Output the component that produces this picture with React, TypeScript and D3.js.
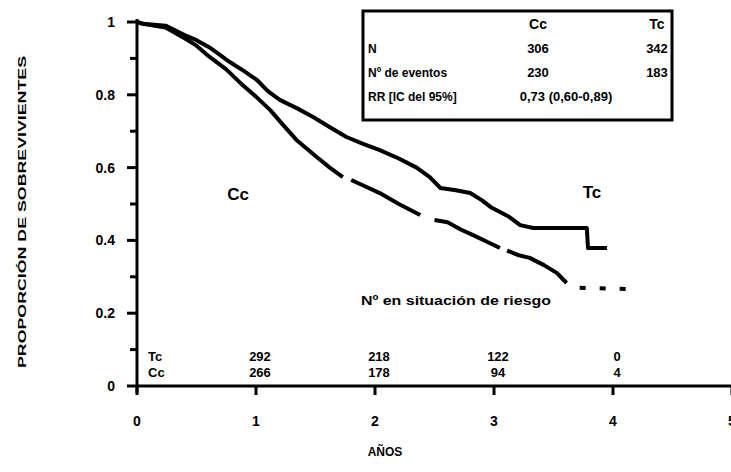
import React from "react";
import * as d3 from "d3";

// axis ticks
const years = [0, 1, 2, 3, 4, 5];
const survTicks = [0, 0.2, 0.4, 0.6, 0.8, 1];
const survLabels = ["0", "0.2", "0.4", "0.6", "0.8", "1"];
const minorTicks = [0.1, 0.3, 0.5, 0.7, 0.9];

// Tc curve (upper)
const tcTime = [0, 0.05, 0.24, 0.4, 0.5, 0.61, 0.78, 0.9, 1.01, 1.1, 1.2, 1.35, 1.48, 1.6, 1.76, 1.9, 2.04, 2.2, 2.35, 2.46, 2.55, 2.68, 2.8, 2.9, 2.97, 3.05, 3.13, 3.22, 3.33, 3.78, 3.79, 3.95];
const tcSurv = [1, 0.995, 0.99, 0.964, 0.95, 0.93, 0.89, 0.865, 0.84, 0.81, 0.786, 0.762, 0.739, 0.715, 0.684, 0.665, 0.648, 0.625, 0.6, 0.574, 0.544, 0.538, 0.53, 0.51, 0.492, 0.478, 0.464, 0.442, 0.434, 0.434, 0.379, 0.379];

// Cc curve (lower); null marks a break in the printed line
const ccTime = [0, 0.05, 0.24, 0.4, 0.5, 0.61, 0.75, 0.87, 1.0, 1.12, 1.22, 1.34, 1.51, 1.62, 1.73, 1.77, 1.8, 1.92, 2.04, 2.2, 2.38, 2.45, 2.5, 2.61, 2.72, 2.82, 2.95, 3.05, 3.08, 3.11, 3.2, 3.3, 3.42, 3.53, 3.61];
const ccSurv = [1, 0.995, 0.985, 0.955, 0.935, 0.904, 0.87, 0.832, 0.795, 0.758, 0.72, 0.676, 0.629, 0.6, 0.574, null, 0.566, 0.548, 0.53, 0.5, 0.47, null, 0.456, 0.45, 0.43, 0.415, 0.395, 0.379, null, 0.372, 0.36, 0.352, 0.332, 0.31, 0.283];
const ccTailTime = [3.72, 4.16];
const ccTailSurv = [0.27, 0.266];

// numbers at risk
const riskYears = [1, 2, 3, 4];
const tcRisk = ["292", "218", "122", "0"];
const ccRisk = ["266", "178", "94", "4"];

// summary table
const tableCols = ["Cc", "Tc"];
const tableRows = ["N", "Nº de eventos", "RR [IC del 95%]"];
const tableN = ["306", "342"];
const tableEvents = ["230", "183"];
const tableRR = "0,73 (0,60-0,89)";

const font = "'Liberation Sans', Arial, sans-serif";

export default function App() {
  const x = d3.scaleLinear().domain([0, 5]).range([137, 732]);
  const y = d3.scaleLinear().domain([0, 1]).range([386, 22]);

  const line = d3
    .line<[number, number | null]>()
    .defined((d) => d[1] != null)
    .x((d) => x(d[0]))
    .y((d) => y(d[1] as number));

  const tc = tcTime.map((t, i) => [t, tcSurv[i]] as [number, number | null]);
  const cc = ccTime.map((t, i) => [t, ccSurv[i]] as [number, number | null]);
  const ccTail = ccTailTime.map((t, i) => [t, ccTailSurv[i]] as [number, number | null]);

  const colX = [538, 657];
  const rowY = [48, 72, 96];

  return (
    <div style={{ position: "absolute", left: 0, top: 0 }}>
      <svg width={731} height={472} style={{ display: "block", background: "#fff" }} fontFamily={font} fontWeight="bold">
        {/* y axis title */}
        <text
          transform="translate(26,212) rotate(-90)"
          textAnchor="middle"
          fontSize={11}
          textLength={312}
          lengthAdjust="spacingAndGlyphs"
        >
          PROPORCIÓN DE SOBREVIVIENTES
        </text>

        {/* y axis */}
        <line x1={x(0)} x2={x(0)} y1={y(1) - 3} y2={y(0) + 7} stroke="#000" strokeWidth={3} />
        {survTicks.map((v, i) => (
          <g key={"yt" + v}>
            <line x1={x(0) - 10} x2={x(0)} y1={y(v)} y2={y(v)} stroke="#000" strokeWidth={3} />
            <text x={115} y={y(v) + 5} textAnchor="end" fontSize={14}>
              {survLabels[i]}
            </text>
          </g>
        ))}
        {minorTicks.map((v) => (
          <line key={"ym" + v} x1={x(0) - 7} x2={x(0)} y1={y(v)} y2={y(v)} stroke="#000" strokeWidth={3} />
        ))}

        {/* x axis */}
        <line x1={x(0)} x2={731} y1={y(0)} y2={y(0)} stroke="#000" strokeWidth={3} />
        {years.map((t) => (
          <g key={"xt" + t}>
            <line x1={x(t)} x2={x(t)} y1={y(0)} y2={y(0) + 9} stroke="#000" strokeWidth={3} />
            <text x={x(t)} y={426} textAnchor="middle" fontSize={14}>
              {t}
            </text>
          </g>
        ))}
        <text x={385} y={456} textAnchor="middle" fontSize={12}>
          AÑOS
        </text>

        {/* curves */}
        <path d={line(tc) || ""} fill="none" stroke="#000" strokeWidth={4} strokeLinejoin="round" />
        <path d={line(cc) || ""} fill="none" stroke="#000" strokeWidth={4} strokeLinejoin="round" />
        <path d={line(ccTail) || ""} fill="none" stroke="#000" strokeWidth={4} strokeDasharray="6,14" />

        <text x={238} y={200} textAnchor="middle" fontSize={17}>Cc</text>
        <text x={592} y={198} textAnchor="middle" fontSize={17}>Tc</text>

        {/* numbers at risk */}
        <text x={456} y={305} textAnchor="middle" fontSize={12} textLength={190} lengthAdjust="spacingAndGlyphs">
          Nº en situación de riesgo
        </text>
        <text x={148} y={361} fontSize={13}>Tc</text>
        <text x={148} y={377} fontSize={13}>Cc</text>
        {riskYears.map((t, i) => (
          <g key={"r" + t}>
            <text x={x(t) + 4} y={361} textAnchor="middle" fontSize={13}>{tcRisk[i]}</text>
            <text x={x(t) + 4} y={377} textAnchor="middle" fontSize={13}>{ccRisk[i]}</text>
          </g>
        ))}

        {/* summary table */}
        <rect x={363} y={11} width={309} height={109} fill="#fff" stroke="#000" strokeWidth={3} />
        {tableCols.map((c, i) => (
          <text key={c} x={colX[i]} y={29} textAnchor="middle" fontSize={14}>{c}</text>
        ))}
        {tableRows.map((r, i) => (
          <text key={r} x={368} y={rowY[i] + 5} fontSize={12}>{r}</text>
        ))}
        {tableN.map((n, i) => (
          <text key={"n" + i} x={colX[i]} y={rowY[0] + 5} textAnchor="middle" fontSize={13}>{n}</text>
        ))}
        {tableEvents.map((n, i) => (
          <text key={"e" + i} x={colX[i]} y={rowY[1] + 5} textAnchor="middle" fontSize={13}>{n}</text>
        ))}
        <text x={566} y={rowY[2] + 5} textAnchor="middle" fontSize={13}>{tableRR}</text>
      </svg>
    </div>
  );
}
